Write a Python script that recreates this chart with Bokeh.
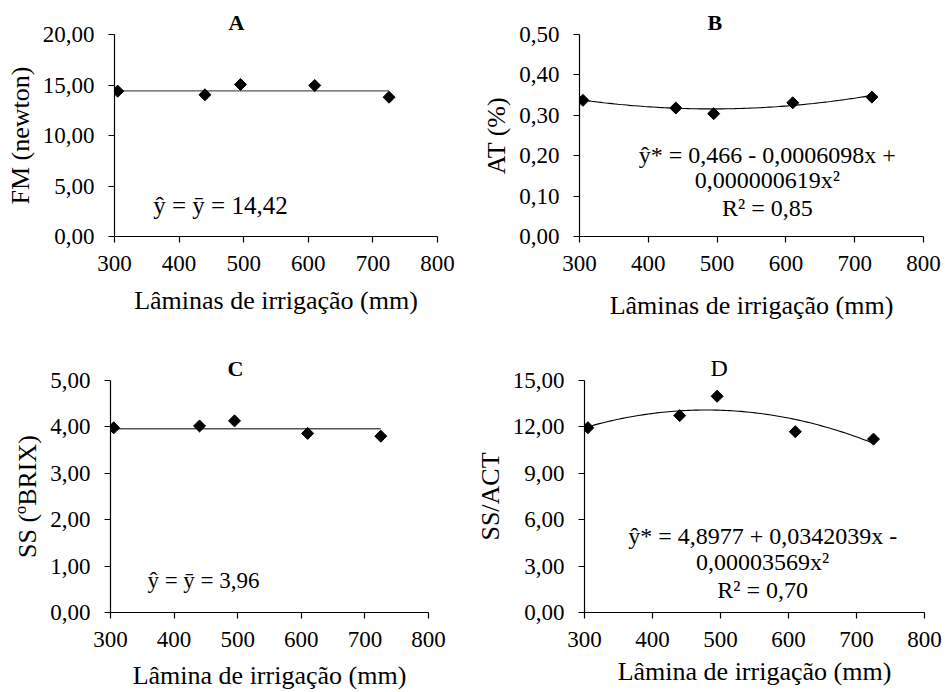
import math
import numpy as np
from bokeh.plotting import figure
from bokeh.layouts import column, row
from bokeh.models import Range1d, FixedTicker, Title
from bokeh.core.properties import value
from bokeh.embed import file_html
from bokeh.resources import INLINE

FONT = "'Liberation Serif', 'Times New Roman', serif"

# ---------------- data ----------------
laminas = [305, 440, 495, 610, 725]

fm_values = [14.39, 14.03, 15.05, 14.95, 13.79]
fm_mean = 14.42

at_values = [0.337, 0.318, 0.304, 0.331, 0.345]
at_coef = [0.466, -0.0006098, 0.000000619]

ss_values = [3.98, 4.02, 4.13, 3.86, 3.80]
ss_mean = 3.96

ssact_values = [11.95, 12.73, 13.98, 11.69, 11.21]
ssact_coef = [4.8977, 0.0342039, -0.00003569]

x_ticks = [300, 400, 500, 600, 700, 800]
x_tick_labels = ["300", "400", "500", "600", "700", "800"]

fm_ticks = [0, 5, 10, 15, 20]
fm_tick_labels = ["0,00", "5,00", "10,00", "15,00", "20,00"]
at_ticks = [0, 0.1, 0.2, 0.3, 0.4, 0.5]
at_tick_labels = ["0,00", "0,10", "0,20", "0,30", "0,40", "0,50"]
ss_ticks = [0, 1, 2, 3, 4, 5]
ss_tick_labels = ["0,00", "1,00", "2,00", "3,00", "4,00", "5,00"]
ssact_ticks = [0, 3, 6, 9, 12, 15]
ssact_tick_labels = ["0,00", "3,00", "6,00", "9,00", "12,00", "15,00"]

eq_a = "ŷ = ȳ = 14,42"
eq_b = ["ŷ* = 0,466 - 0,0006098x +", "0,000000619x²", "R² = 0,85"]
eq_c = "ŷ = ȳ = 3,96"
eq_d = ["ŷ* = 4,8977 + 0,0342039x -", "0,00003569x²", "R² = 0,70"]


def make_panel(w, h, borders, ymax, yticks, ylabels, ylab, xlab, xlab_standoff):
    left, right, top, bottom = borders
    p = figure(width=w, height=h, output_backend="svg", toolbar_location=None,
               x_range=Range1d(300, 800), y_range=Range1d(0, ymax),
               min_border_left=left, min_border_right=right,
               min_border_top=top, min_border_bottom=bottom)
    p.outline_line_color = None
    p.grid.visible = False
    p.background_fill_color = "white"
    p.border_fill_color = "white"
    for ax in (p.xaxis[0], p.yaxis[0]):
        ax.axis_line_color = "black"
        ax.axis_line_width = 1.2
        ax.major_tick_line_color = "black"
        ax.major_tick_line_width = 1.2
        ax.major_tick_out = 6
        ax.major_tick_in = 0
        ax.minor_tick_line_color = None
        ax.major_label_text_font = FONT
        ax.major_label_text_font_size = "23px"
        ax.major_label_text_color = "black"
        ax.axis_label_text_font = FONT
        ax.axis_label_text_font_size = "26px"
        ax.axis_label_text_font_style = "normal"
        ax.axis_label_text_color = "black"
    p.xaxis[0].ticker = FixedTicker(ticks=x_ticks)
    p.xaxis[0].major_label_overrides = {t: l for t, l in zip(x_ticks, x_tick_labels)}
    p.xaxis[0].major_label_standoff = 13
    p.xaxis[0].axis_label = xlab
    p.xaxis[0].axis_label_standoff = xlab_standoff
    p.yaxis[0].ticker = FixedTicker(ticks=yticks)
    p.yaxis[0].major_label_overrides = {t: l for t, l in zip(yticks, ylabels)}
    p.yaxis[0].major_label_standoff = 14
    p.yaxis[0].axis_label = ylab
    p.yaxis[0].axis_label_standoff = 5
    return p


def points(p, ys):
    p.scatter(laminas, ys, marker="square", angle=math.pi / 4, size=8.5,
              fill_color="black", line_color="black")


def title(p, txt, offset, bold=True, size="22px"):
    p.add_layout(Title(text=txt, align="left", offset=offset, standoff=0,
                       text_font=FONT, text_font_size=size,
                       text_font_style="bold" if bold else "normal",
                       text_color="black"), "above")


# ---- A ----
pa = make_panel(472, 330, (114, 35, 34, 94), 20, fm_ticks, fm_tick_labels,
                "FM (newton)", "Lâminas de irrigação (mm)", 12)
pa.line([laminas[0], laminas[-1]], [fm_mean, fm_mean], line_color="#555555", line_width=1.3)
points(pa, fm_values)
pa.text(x=[360], y=[3.02], text=[eq_a], text_font=value(FONT), text_font_size="25px",
        text_align="left", text_baseline="middle", text_color="black")
title(pa, "A", 114)

# ---- B ----
pb = make_panel(473, 330, (107, 22, 34, 90), 0.5, at_ticks, at_tick_labels,
                "AT (%)", "Lâminas de irrigação (mm)", 17)
xs = np.linspace(laminas[0], laminas[-1], 100)
pb.line(xs, at_coef[0] + at_coef[1] * xs + at_coef[2] * xs ** 2, line_color="black", line_width=1.1)
points(pb, at_values)
pb.text(x=[573, 573, 573], y=[0.2025, 0.1395, 0.071], text=eq_b, text_font=value(FONT),
        text_font_size="24px", text_align="center", text_baseline="middle", text_color="black")
title(pb, "B", 128)

# ---- C ----
pc = make_panel(472, 362, (110, 44, 47, 79), 5, ss_ticks, ss_tick_labels,
                "SS (ºBRIX)", "Lâmina de irrigação (mm)", 11)
pc.line([laminas[0], laminas[-1]], [ss_mean, ss_mean], line_color="#555555", line_width=1.3)
points(pc, ss_values)
pc.text(x=[358], y=[0.69], text=[eq_c], text_font=value(FONT), text_font_size="23px",
        text_align="left", text_baseline="middle", text_color="black")
title(pc, "C", 117)

# ---- D ----
pd_ = make_panel(473, 362, (108, 21, 50, 76), 15, ssact_ticks, ssact_tick_labels,
                 "SS/ACT", "Lâmina de irrigação (mm)", 7)
pd_.line(xs, ssact_coef[0] + ssact_coef[1] * xs + ssact_coef[2] * xs ** 2,
         line_color="black", line_width=1.1)
points(pd_, ssact_values)
pd_.text(x=[562, 562, 562], y=[4.96, 3.24, 1.46], text=eq_d, text_font=value(FONT),
         text_font_size="24px", text_align="center", text_baseline="middle", text_color="black")
title(pd_, "D", 126, bold=False, size="24px")

layout = column(row(pa, pb, spacing=0), row(pc, pd_, spacing=0), spacing=0)
open("out.html", "w").write(file_html(layout, INLINE))
